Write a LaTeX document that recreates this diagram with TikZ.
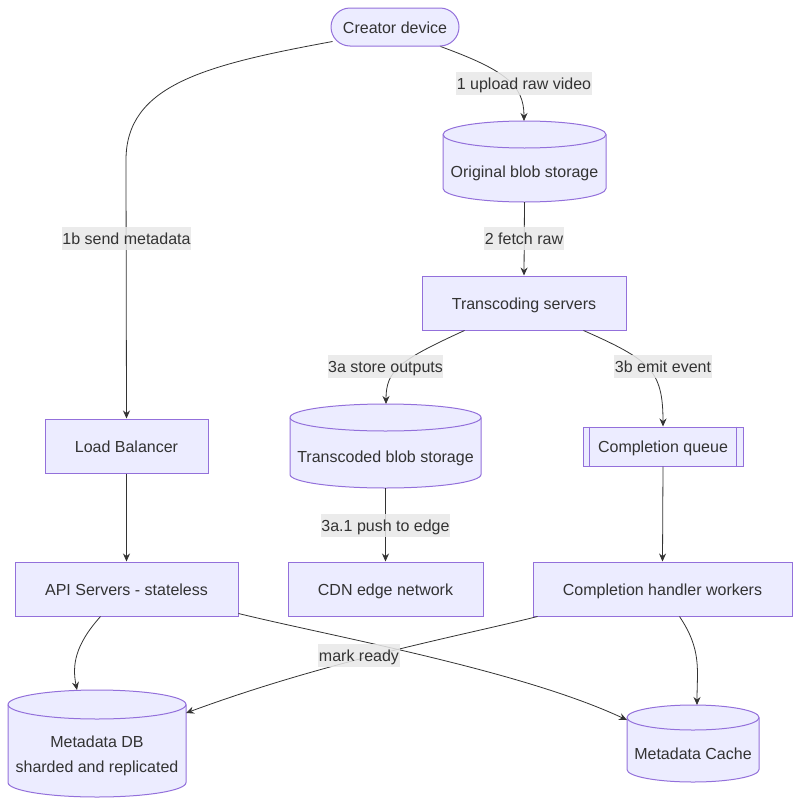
\documentclass[tikz,border=0pt]{standalone}
\usepackage{fontspec}
\setmainfont{Liberation Sans}
\usetikzlibrary{arrows.meta,calc}
\definecolor{nodefill}{HTML}{ECECFF}
\definecolor{nodeline}{HTML}{9370DB}
\definecolor{txt}{HTML}{333333}
\definecolor{edgec}{HTML}{333333}
\definecolor{lblbg}{HTML}{E8E8E8}
\tikzset{
  base/.style={font=\fontsize{16}{19}\selectfont, text=txt, text height=15pt, text depth=3pt},
  box/.style={base, draw=nodeline, fill=nodefill, line width=1pt, inner sep=0pt},
  txtnode/.style={base, inner sep=0pt, align=center},
  lbl/.style={base, fill=lblbg, fill opacity=0.85, text opacity=1, inner xsep=0.5pt, inner ysep=2.5pt},
  edge/.style={draw=edgec, line width=0.8pt, -{Stealth[length=8pt,width=7pt]}},
  cylst/.style={draw=nodeline, fill=nodefill, line width=1pt},
}
% \cyl{name}{cx}{cy}{halfw}{halfh}{ry}{text}{text offset}
\newcommand\cyl[8]{%
  \filldraw[cylst] ({#2-#4},{-(#3-#5+#6)}) -- ({#2-#4},{-(#3+#5-#6)})
     arc[start angle=180,end angle=360,x radius=#4,y radius=#6]
     -- ({#2+#4},{-(#3-#5+#6)})
     arc[start angle=0,end angle=180,x radius=#4,y radius=#6] -- cycle;
  \draw[cylst,fill=none] ({#2-#4},{-(#3-#5+#6)})
     arc[start angle=180,end angle=360,x radius=#4,y radius=#6];
  \node[txtnode, minimum width={2*#4}, minimum height={2*#5}] (#1) at (#2,{-#3}) {};
  \node[txtnode] (#1-t) at (#2,{-(#3+#8)}) {#7};
}
\begin{document}
\begin{tikzpicture}[x=1pt,y=1pt]
\useasboundingbox (0,0) rectangle (801,-806);
% nodes
\node[box, rounded corners=19pt, minimum width=128, minimum height=38] (creator) at (395,-27) {Creator device};
\cyl{orig}{524.5}{161.5}{81.5}{40.5}{13.5}{Original blob storage}{10}
\node[box, minimum width=204, minimum height=54] (trans) at (524,-303) {Transcoding servers};
\node[box, minimum width=163, minimum height=54] (lb) at (126.5,-446) {Load Balancer};
\cyl{tblob}{385.5}{446}{95.5}{42}{13.5}{Transcoded blob storage}{10}
\node[box, minimum width=160, minimum height=39] (queue) at (663,-446.5) {Completion queue};
\draw[draw=nodeline, line width=1pt] ($(queue.north west)+(7,0)$) -- ($(queue.south west)+(7,0)$);
\draw[draw=nodeline, line width=1pt] ($(queue.north east)+(-7,0)$) -- ($(queue.south east)+(-7,0)$);
\node[box, minimum width=223, minimum height=54] (api) at (126.5,-589) {API Servers - stateless};
\node[box, minimum width=195, minimum height=54] (cdn) at (385.5,-589) {CDN edge network};
\node[box, minimum width=259, minimum height=54] (handler) at (662.5,-589) {Completion handler workers};
\cyl{db}{97}{743.5}{89}{53.5}{14.5}{Metadata DB\\[6pt]sharded and replicated}{23}
\cyl{cache}{693}{743.5}{66}{38.5}{12.5}{Metadata Cache}{10}
% coordinates for edge ends
\coordinate (origtop) at (524,-121);
\coordinate (tblobtop) at (386,-404);
\coordinate (dbtop) at (77,-690);
\coordinate (dbside) at (186,-713);
\coordinate (cachetop) at (697,-705);
\coordinate (cacheside) at (627,-720);
% edges
\draw[edge] (creator.south west) ++(2,5) .. controls (205,-65) and (126,-85) .. (126,-160) -- (lb.north);
\draw[edge] (creator.south east) ++(-19,0) .. controls (505,-70) and (524,-85) .. (origtop);
\draw[edge] (orig.south) -- (trans.north);
\draw[edge] ($(trans.south west)+(43,0)$) .. controls (400,-360) and (386,-370) .. (tblobtop);
\draw[edge] ($(trans.south east)+(-43,0)$) .. controls (650,-360) and (663,-370) .. (queue.north);
\draw[edge] (tblob.south) -- (cdn.north);
\draw[edge] (queue.south) -- (handler.north);
\draw[edge] (lb.south) -- (api.north);
\draw[edge] ($(api.south west)+(86,0)$) .. controls (75,-645) and (72,-665) .. (dbtop);
\draw[edge] ($(api.south east)+(0,3)$) .. controls (330,-636) and (520,-670) .. (cacheside);
\draw[edge] ($(handler.south west)+(5,0)$) .. controls (460,-636) and (330,-660) .. (dbside);
\draw[edge] ($(handler.south west)+(147,0)$) .. controls (702,-650) and (697,-670) .. (cachetop);
% labels
\node[lbl] (l1) at (524,-83) {1 upload raw video};
\node[lbl] (l1b) at (126.5,-238) {1b send metadata};
\node[lbl] (l2) at (524,-238) {2 fetch raw};
\node[lbl] (l3a) at (385.5,-366) {3a store outputs};
\node[lbl] (l3b) at (663,-366) {3b emit event};
\node[lbl] (l3a1) at (385.5,-525) {3a.1 push to edge};
\node[lbl] (lmr) at (359,-655) {mark ready};
\end{tikzpicture}
\end{document}
